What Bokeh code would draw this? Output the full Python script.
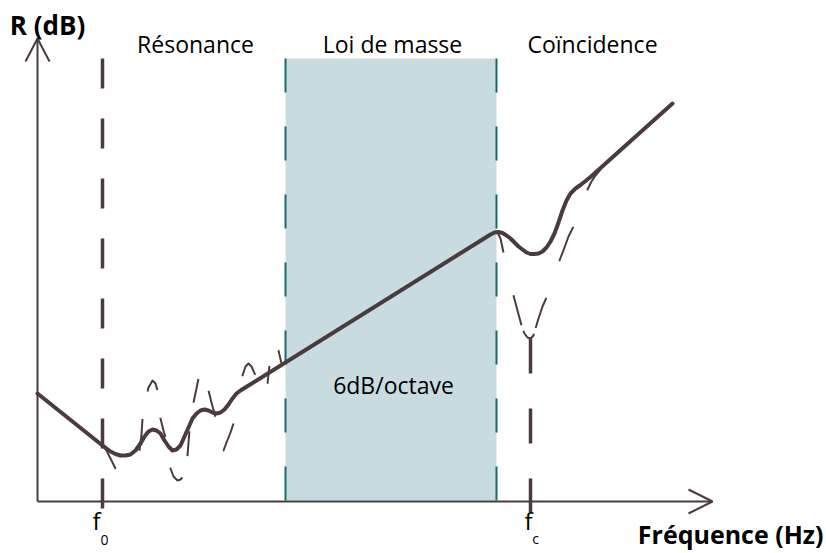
from bokeh.plotting import figure
from bokeh.models import Range1d
from bokeh.core.properties import value
from bokeh.embed import file_html
from bokeh.resources import INLINE

# ---- data (drawing units: x = frequency position, y = level position, y grows downward) ----
# solid transmission-loss curve R(f)
solid_x = [37, 102, 106, 110, 115, 120, 125, 130, 135, 140, 144, 148, 152, 156, 160, 164, 168, 172,
           176, 180, 184, 188, 192, 196, 200, 204, 208, 212, 216, 220, 224, 228, 232, 236, 240,
           490, 494, 498, 502, 506, 510, 514, 518, 522, 526, 530, 534, 538, 542, 546, 550, 554,
           558, 562, 566, 570, 575, 580, 585, 590, 672]
solid_y = [393, 445, 448, 451, 453.5, 455, 455, 454, 450, 443, 436, 431, 429, 430, 433, 440, 446, 450,
           449, 445, 436, 427, 418, 413, 410, 409, 410, 412, 413, 412, 409, 404, 398, 393, 390,
           234, 232, 231.5, 232.5, 235, 238, 242, 246, 249, 252, 253.5, 253.5, 253, 251, 247, 241, 233,
           222, 210, 200, 193, 188, 184.5, 180.5, 176.5, 103]

# dashed curve in the resonance zone
res_x = [102, 106, 110, 115, 119, 123, 128, 133, 137, 139, 141, 142, 145, 148, 152, 155, 157, 159, 160,
         163, 165, 168, 170, 173, 177, 180, 182, 185, 187, 188, 189, 191, 193, 196, 198, 202, 205, 208,
         211, 215, 218, 221, 223, 226, 230, 233, 236, 239, 242, 245, 248, 251, 255, 259, 263, 267, 269,
         272, 275, 278, 281, 285]
res_y = [445, 450, 458, 468, 474, 476, 474, 467, 458, 450, 434, 418, 400, 387, 380, 383, 390, 405, 418,
         430, 437, 455, 468, 476, 480, 479, 477, 468, 455, 442, 430, 415, 402, 388, 378, 372, 378, 390,
         402, 417, 435, 448, 450, 442, 432, 423, 408, 390, 375, 366, 363, 366, 375, 385, 389, 383, 365,
         352, 348, 350, 363, 362]

# dashed curve in the coincidence zone
coi_x = [497, 500, 503, 506, 509, 513, 517, 521, 524, 527, 530, 533, 535, 538, 542, 546, 550, 555,
         559, 564, 568, 573, 578, 583, 587, 591, 595, 600]
coi_y = [232, 238, 252, 265, 280, 295, 310, 325, 333, 337, 338, 335, 328, 318, 306, 297, 285, 272,
         260, 247, 236, 226, 213, 200, 189, 181, 175, 169]

# axes
axis_origin = (37, 501)
axis_x_end = 712
axis_y_end = 38
# characteristic frequencies
f0_x = 102
fc_x = 530
fc_top = 338
# mass-law zone
zone_left = 285
zone_right = 496
zone_top = 58

zone_labels = ["Résonance", "Loi de masse", "Coïncidence"]
zone_label_x = [195, 392, 592]

BROWN = "#4b3b3d"
TEAL = "#17696c"
FILL = "#c8dcdf"
FONT = "Open Sans"

W, H = 826, 553
p = figure(width=W, height=H, x_range=Range1d(0, W), y_range=Range1d(H, 0),
           output_backend="svg", toolbar_location=None, min_border=0,
           x_axis_location=None, y_axis_location=None)
p.grid.visible = False
p.outline_line_color = None
p.background_fill_color = "white"

ox, oy = axis_origin

# mass-law band
p.quad(left=[zone_left], right=[zone_right], top=[zone_top], bottom=[oy - 1],
       fill_color=FILL, line_color=None)
for xb in (zone_left, zone_right):
    p.line([xb, xb], [zone_top, oy], line_color=TEAL, line_width=2, line_dash="34 34")

# axes with open arrow heads
p.line([ox, axis_x_end], [oy, oy], line_color=BROWN, line_width=2)
p.line([ox, ox], [oy, axis_y_end], line_color=BROWN, line_width=2)
p.line([axis_x_end - 24, axis_x_end, axis_x_end - 24], [oy - 12, oy, oy + 12],
       line_color=BROWN, line_width=2)
p.line([ox - 12, ox, ox + 12], [axis_y_end + 23, axis_y_end, axis_y_end + 23],
       line_color=BROWN, line_width=2)

# f0 and fc markers
p.line([f0_x, f0_x], [zone_top, oy + 11], line_color=BROWN, line_width=3.5, line_dash="30 30")
p.line([fc_x, fc_x], [fc_top, oy + 11], line_color=BROWN, line_width=3.5, line_dash="35 35")

# dashed curves (irregular hand-drawn dash rhythm)
p.line(res_x, res_y, line_color=BROWN, line_width=2, line_join="round",
       line_dash="27 43 32 28 23 28 20 31 21 22 25 29 24 27 27 35 29 48 28 24 18 22 13 20")
p.line(coi_x, coi_y, line_color=BROWN, line_width=2, line_join="round",
       line_dash="21 44 31 6 17 6 32 39 37 39 25 20")

# solid curve
p.line(solid_x, solid_y, line_color=BROWN, line_width=4, line_join="round", line_cap="round")

# texts
def label(x, y, t, size, bold=False, align="center"):
    p.text(x=x, y=y, text=t, text_font=value(FONT), text_font_style="bold" if bold else "normal",
           text_font_size=size, text_align=align, text_baseline="middle", text_color="black")

label([47], [24], ["R (dB)"], "26px", bold=True)
label(zone_label_x, [43] * 3, zone_labels, "23px")
label([393], [384], ["6dB/octave"], "23px")
label([823], [533], ["Fréquence (Hz)"], "25px", bold=True, align="right")
label([f0_x - 6, fc_x - 2], [520, 520], ["f", "f"], "24px")
label([f0_x + 2, fc_x + 5], [539, 538], ["0", "c"], "14px")

open("out.html", "w").write(file_html(p, INLINE))
